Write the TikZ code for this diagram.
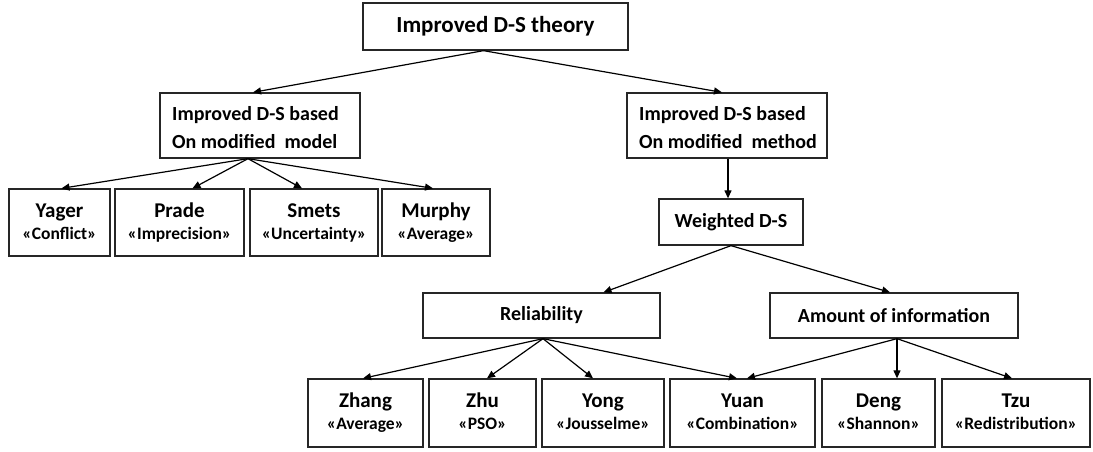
\documentclass[tikz,border=0pt]{standalone}
\usepackage{fontspec}
\setmainfont{Carlito}
\usetikzlibrary{arrows.meta,calc}
\begin{document}
\begin{tikzpicture}[x=1pt,y=-1pt,
  box/.style={draw=black!85,line width=1.3pt,inner sep=0pt,font=\bfseries\fontsize{20}{22}\selectfont},
  leaf/.style={box,align=center,font=\bfseries\fontsize{21}{22}\selectfont},
  twoline/.style={font=\bfseries\fontsize{20}{28}\selectfont,align=left,anchor=west,inner sep=0pt},
  arr/.style={line width=1.2pt,-{Triangle[length=8pt,width=7pt]}}
]
\useasboundingbox (0,0) rectangle (1093,451);
\newcommand{\bx}[6]{\node[#1,minimum width={#4-#3},minimum height={#6-#5}] (#2) at ({(#3+#4)/2},{(#5+#6)/2})}
\newcommand{\nm}[1]{\rule[-5pt]{0pt}{20pt}#1}
\newcommand{\sm}[1]{{\fontsize{17.5}{18}\selectfont\rule[-4pt]{0pt}{16pt}#1}}
% top
\bx{box}{top}{363}{628}{3}{50} {\fontsize{23}{25}\selectfont Improved D-S theory};
\bx{box}{modl}{160}{360}{93}{158} {};
\node[twoline] (modltxt) at (172,128) {Improved D-S based\\On modified\ \ model};
\bx{box}{meth}{627}{827}{93}{158} {};
\node[twoline] (methtxt) at (639,128) {Improved D-S based\\On modified\ \ method};
% left leaves
\bx{leaf}{yager}{9}{110}{189}{256} {\nm{Yager}\\\sm{«Conflict»}};
\bx{leaf}{prade}{115}{244}{189}{256} {\nm{Prade}\\\sm{«Imprecision»}};
\bx{leaf}{smets}{250}{378}{189}{256} {\nm{Smets}\\\sm{«Uncertainty»}};
\bx{leaf}{murphy}{382}{490}{189}{256} {\nm{Murphy}\\\sm{«Average»}};
% weighted
\bx{box}{wds}{659}{803}{199}{245} {Weighted D-S};
\bx{box}{rel}{423}{660}{293}{338} {Reliability};
\bx{box}{amt}{770}{1018}{293}{338} {Amount of information};
% bottom leaves
\bx{leaf}{zhang}{308}{423}{379}{447} {\nm{Zhang}\\\sm{«Average»}};
\bx{leaf}{zhu}{429}{536}{379}{447} {\nm{Zhu}\\\sm{«PSO»}};
\bx{leaf}{yong}{542}{664}{379}{447} {\nm{Yong}\\\sm{«Jousselme»}};
\bx{leaf}{yuan}{670}{815}{379}{447} {\nm{Yuan}\\\sm{«Combination»}};
\bx{leaf}{deng}{822}{935}{379}{447} {\nm{Deng}\\\sm{«Shannon»}};
\bx{leaf}{tzu}{942}{1090}{379}{447} {\nm{Tzu}\\\sm{«Redistribution»}};
% connectors
\draw[arr] ([xshift=-12pt]top.south) -- ([xshift=-7pt]modl.north);
\draw[arr] ([xshift=-12pt]top.south) -- ([xshift=-5pt]meth.north);
\draw[arr] ([xshift=-12pt]modl.south) -- ([xshift=2pt]yager.north);
\draw[arr] ([xshift=-12pt]modl.south) -- ([xshift=13pt]prade.north);
\draw[arr] ([xshift=-12pt]modl.south) -- ([xshift=-12pt]smets.north);
\draw[arr] ([xshift=-12pt]modl.south) -- ([xshift=-3pt]murphy.north);
\draw[arr] ([xshift=1pt]meth.south) -- ([xshift=-3pt]wds.north);
\draw[arr] (wds.south) -- ([xshift=62pt]rel.north);
\draw[arr] (wds.south) -- ([xshift=-4pt]amt.north);
\draw[arr] ([xshift=1.5pt]rel.south) -- ([xshift=-2.5pt]zhang.north);
\draw[arr] ([xshift=1.5pt]rel.south) -- ([xshift=4.5pt]zhu.north);
\draw[arr] ([xshift=1.5pt]rel.south) -- ([xshift=-10pt]yong.north);
\draw[arr] ([xshift=1.5pt]rel.south) -- ([xshift=-5.5pt]yuan.north);
\draw[arr] ([xshift=3pt]amt.south) -- ([xshift=4.5pt]yuan.north);
\draw[arr] ([xshift=3pt]amt.south) -- ([xshift=18.5pt]deng.north);
\draw[arr] ([xshift=3pt]amt.south) -- ([xshift=-4pt]tzu.north);
\end{tikzpicture}
\end{document}
